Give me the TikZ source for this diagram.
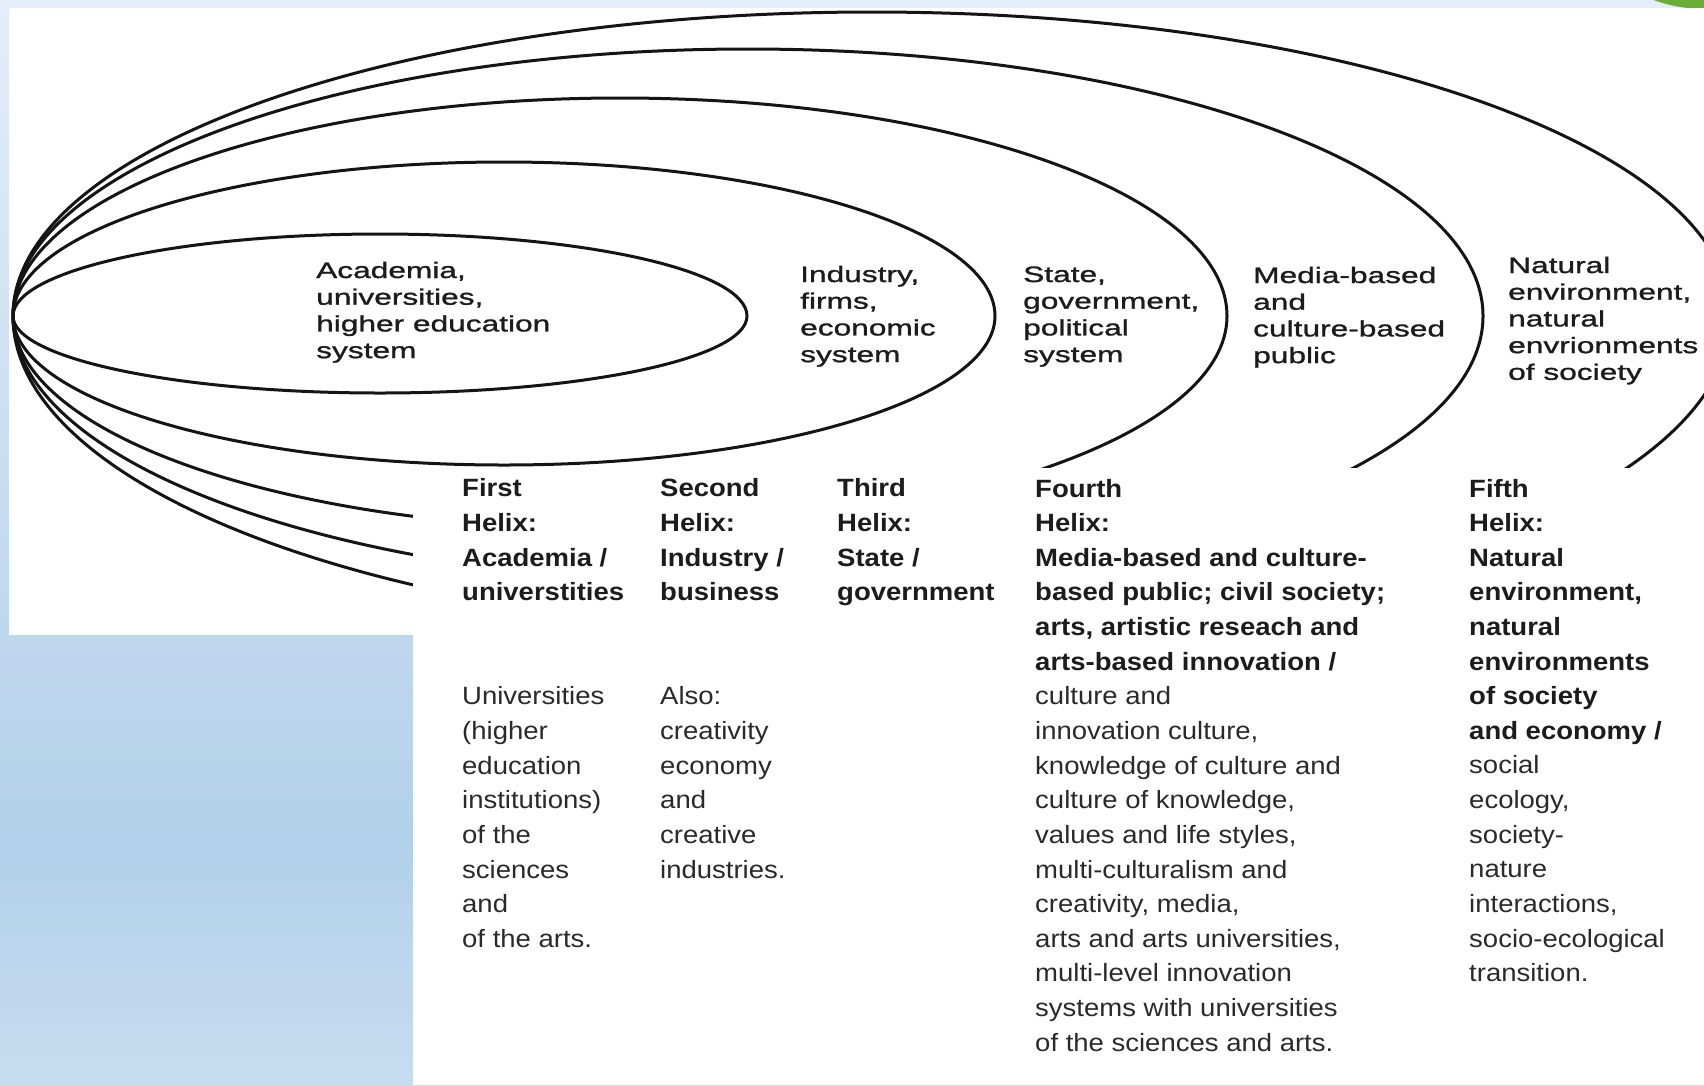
\documentclass[tikz,border=0pt]{standalone}
\usepackage{fontspec}
\setmainfont{Liberation Sans}
\newfontfamily\ellfont{Liberation Sans}[FakeStretch=1.42,FakeBold=1.2]
\newfontfamily\tabfont{Liberation Sans}[FakeStretch=1.1]
\definecolor{bgTop}{HTML}{E3EEF9}
\definecolor{bgMid}{HTML}{BFD7ED}
\definecolor{bgLow}{HTML}{B2D1EA}
\definecolor{bgBot}{HTML}{C7DCF0}
\definecolor{leafgreen}{HTML}{6CAE35}
\definecolor{inkcol}{HTML}{1C1C1C}
\definecolor{bodyink}{HTML}{2A2A2A}
\begin{document}
\begin{tikzpicture}[x=1pt,y=1pt,
  ring/.style={line width=3pt, draw=black!92},
  % anchor base west = baseline of the LAST line of a multi-line node
  elllabel/.style={anchor=base west, align=left, inner sep=0pt, text=inkcol,
    font=\ellfont\fontsize{22.3}{26.7}\selectfont},
  tabhead/.style={anchor=base west, align=left, inner sep=0pt, text=inkcol,
    font=\tabfont\bfseries\fontsize{25}{34.64}\selectfont},
  tabbody/.style={anchor=base west, align=left, inner sep=0pt, text=bodyink,
    font=\tabfont\fontsize{25}{34.64}\selectfont}]
\useasboundingbox (0,0) rectangle (1704,-1085);
% background
\shade[top color=bgTop, bottom color=bgMid] (0,0) rectangle (1704,-636);
\shade[top color=bgMid, bottom color=bgLow] (0,-635) rectangle (1704,-851);
\shade[top color=bgLow, bottom color=bgBot] (0,-850) rectangle (1704,-1085);
\fill[leafgreen] (1705,142) circle (151pt);
% picture of the ellipses
\fill[white] (9,-8) rectangle (1704,-635);
\begin{scope}
  \clip (9,-8) rectangle (1704,-635);
  \draw[ring] (13,-316) arc[start angle=180,end angle=0,x radius=367pt,y radius=82pt]
                        arc[start angle=0,end angle=-180,x radius=367pt,y radius=77pt];
  \draw[ring] (13,-316) arc[start angle=180,end angle=0,x radius=491pt,y radius=154pt]
                        arc[start angle=0,end angle=-180,x radius=491pt,y radius=149pt];
  \draw[ring] (13,-316) arc[start angle=180,end angle=0,x radius=607pt,y radius=218pt]
                        arc[start angle=0,end angle=-180,x radius=607pt,y radius=213pt];
  \draw[ring] (13,-316) arc[start angle=180,end angle=0,x radius=735pt,y radius=267pt]
                        arc[start angle=0,end angle=-180,x radius=735pt,y radius=268pt];
  \draw[ring] (13,-316) arc[start angle=180,end angle=0,x radius=859pt,y radius=304pt]
                        arc[start angle=0,end angle=-180,x radius=859pt,y radius=318pt];
\end{scope}
\node[elllabel] (acad) at (316,-358.1) {Academia,\\universities,\\higher education\\system};
\node[elllabel] (ind) at (800,-362.1) {Industry,\\firms,\\economic\\system};
\node[elllabel] (state) at (1023,-362.1) {State,\\government,\\political\\system};
\node[elllabel] (media) at (1253,-363.1) {Media-based\\and\\culture-based\\public};
\node[elllabel] (nat) at (1508,-379.8) {Natural\\environment,\\natural\\envrionments\\of society};
% table picture
\fill[white] (413,-468) rectangle (1704,-1085);
\node[tabhead] (h1) at (462,-600.9) {First\\Helix:\\Academia /\\universtities};
\node[tabbody] (b1) at (462,-947.3) {Universities\\(higher\\education\\institutions)\\of the\\sciences\\and\\of the arts.};
\node[tabhead] (h2) at (660,-600.9) {Second\\Helix:\\Industry /\\business};
\node[tabbody] (b2) at (660,-878.0) {Also:\\creativity\\economy\\and\\creative\\industries.};
\node[tabhead] (h3) at (837,-600.9) {Third\\Helix:\\State /\\government};
\node[tabhead] (h4) at (1035,-670.2) {Fourth\\Helix:\\Media-based and culture-\\based public; civil society;\\arts, artistic reseach and\\arts-based innovation /};
\node[tabbody] (b4) at (1035,-1051.2) {culture and\\innovation culture,\\knowledge of culture and\\culture of knowledge,\\values and life styles,\\multi-culturalism and\\creativity, media,\\arts and arts universities,\\multi-level innovation\\systems with universities\\of the sciences and arts.};
\node[tabhead] (h5) at (1469,-739.5) {Fifth\\Helix:\\Natural\\environment,\\natural\\environments\\of society\\and economy /};
\node[tabbody] (b5) at (1469,-981.8) {social\\ecology,\\society-\\nature\\interactions,\\socio-ecological\\transition.};
\end{tikzpicture}
\end{document}
